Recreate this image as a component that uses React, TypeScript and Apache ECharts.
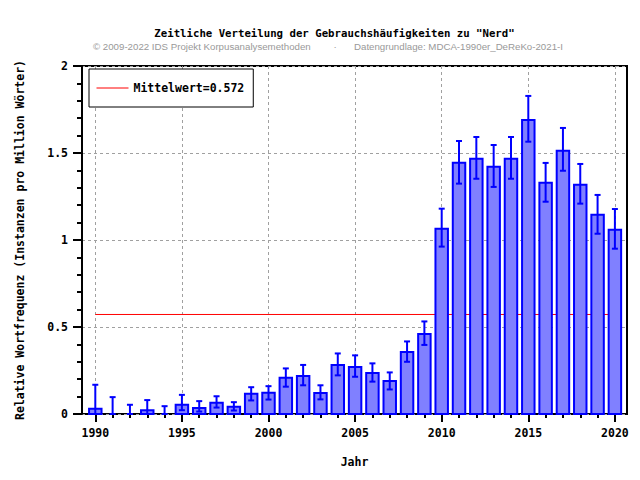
import React, { useEffect, useRef } from "react";
import * as echarts from "echarts";

const years = [1990, 1991, 1992, 1993, 1994, 1995, 1996, 1997, 1998, 1999, 2000, 2001, 2002, 2003, 2004, 2005, 2006, 2007, 2008, 2009, 2010, 2011, 2012, 2013, 2014, 2015, 2016, 2017, 2018, 2019, 2020];
const values = [0.03, 0, 0, 0.022, 0, 0.053, 0.034, 0.064, 0.041, 0.116, 0.122, 0.208, 0.218, 0.121, 0.282, 0.27, 0.236, 0.19, 0.356, 0.46, 1.065, 1.444, 1.467, 1.421, 1.467, 1.69, 1.329, 1.513, 1.318, 1.145, 1.059];
const errLow = [0, 0, 0, 0, 0, 0.022, 0.014, 0.037, 0.02, 0.078, 0.083, 0.157, 0.165, 0.084, 0.222, 0.214, 0.186, 0.141, 0.3, 0.397, 0.962, 1.324, 1.352, 1.305, 1.352, 1.565, 1.22, 1.398, 1.209, 1.036, 0.95];
const errHigh = [0.168, 0.097, 0.053, 0.08, 0.045, 0.11, 0.074, 0.102, 0.068, 0.154, 0.16, 0.262, 0.282, 0.165, 0.348, 0.337, 0.291, 0.239, 0.417, 0.532, 1.18, 1.569, 1.592, 1.546, 1.592, 1.828, 1.443, 1.644, 1.437, 1.259, 1.178];
const meanValue = 0.572;
const meanName = "Mittelwert=0.572";
const titleText = 'Zeitliche Verteilung der Gebrauchshäufigkeiten zu "Nerd"';
const subLeft = "© 2009-2022 IDS Projekt Korpusanalysemethoden";
const subRight = "Datengrundlage: MDCA-1990er_DeReKo-2021-I";
const yName = "Relative Wortfrequenz (Instanzen pro Million Wörter)";
const xName = "Jahr";

const MONO = '"DejaVu Sans Mono", "Liberation Mono", monospace';
const SANS = '9.7px "Liberation Sans", Arial, sans-serif';

export default function App() {
  const ref = useRef<HTMLDivElement>(null);
  useEffect(() => {
    if (!ref.current) return;
    const chart = echarts.init(ref.current, null, { renderer: "svg" });
    const data = years.map((y, i) => [y, values[i], errLow[i], errHigh[i]]);
    const labelStyle = { fontFamily: MONO, fontWeight: "bold" as const, fontSize: 11.5, color: "#000" };
    const option: any = {
      animation: false,
      backgroundColor: "#fff",
      graphic: [
        { type: "text", x: 334.5, y: 33, style: { text: titleText, font: `bold 10.7px ${MONO}`, fill: "#000", textAlign: "center", textVerticalAlign: "middle", align: "center", verticalAlign: "middle" } },
        { type: "text", x: 93, y: 46.5, style: { text: subLeft, font: SANS, fill: "#999", textAlign: "left", textVerticalAlign: "middle", align: "left", verticalAlign: "middle" } },
        { type: "text", x: 335, y: 46.5, style: { text: "·", font: SANS, fill: "#999", textAlign: "center", textVerticalAlign: "middle", align: "center", verticalAlign: "middle" } },
        { type: "text", x: 354, y: 46.5, style: { text: subRight, font: SANS, fill: "#999", textAlign: "left", textVerticalAlign: "middle", align: "left", verticalAlign: "middle" } },
      ],
      legend: {
        data: [meanName],
        left: 89,
        top: 69,
        padding: [13, 9, 13, 7],
        itemWidth: 32,
        itemHeight: 12,
        backgroundColor: "#fff",
        borderColor: "#000",
        borderWidth: 1,
        borderRadius: 0,
        textStyle: labelStyle,
        selectedMode: false,
        itemStyle: { color: "rgba(0,0,0,0)", borderColor: "rgba(0,0,0,0)", borderWidth: 0 },
        lineStyle: { color: "#ff0000", width: 1 },
      },
      grid: [
        { left: 82, right: 13, top: 66, bottom: 66, show: true, borderColor: "#000", borderWidth: 2, backgroundColor: "transparent" },
        { left: 95.3, right: 25.1, top: 66, bottom: 66 },
      ],
      xAxis: [
        {
          gridIndex: 0, type: "value", min: 0, max: 1,
          axisLine: { show: false }, axisTick: { show: false }, axisLabel: { show: false }, splitLine: { show: false },
          name: xName, nameLocation: "middle", nameGap: 42, nameTextStyle: labelStyle,
        },
        {
          gridIndex: 1, type: "value", min: 1990, max: 2020, interval: 5,
          axisLine: { show: false },
          axisTick: { show: true, length: 8, lineStyle: { color: "#000", width: 2 } },
          minorTick: { show: true, splitNumber: 5, length: 4, lineStyle: { color: "#000", width: 2 } },
          axisLabel: { ...labelStyle, margin: 13, formatter: (v: number) => String(v) },
          splitLine: { show: true, lineStyle: { color: "#a0a0a0", width: 1, type: [3, 3] } },
        },
      ],
      yAxis: [
        {
          gridIndex: 0, type: "value", min: 0, max: 2, interval: 0.5,
          axisLine: { show: true, lineStyle: { color: "#000", width: 2 } },
          axisTick: { show: true, length: 9, lineStyle: { color: "#000", width: 2 } },
          minorTick: { show: true, splitNumber: 5, length: 5, lineStyle: { color: "#000", width: 2 } },
          axisLabel: { ...labelStyle, margin: 14 },
          splitLine: { show: true, lineStyle: { color: "#a0a0a0", width: 1, type: [3, 3] } },
          name: yName, nameLocation: "middle", nameGap: 56, nameTextStyle: labelStyle,
        },
        { gridIndex: 1, type: "value", min: 0, max: 2, show: false },
      ],
      series: [
        {
          name: meanName,
          type: "line",
          xAxisIndex: 1,
          yAxisIndex: 1,
          data: [[years[0], meanValue], [years[years.length - 1], meanValue]],
          symbol: "none",
          lineStyle: { color: "#ff0000", width: 1 },
          itemStyle: { color: "#ff0000" },
          z: 1,
        },
        {
          name: "freq",
          type: "custom",
          xAxisIndex: 1,
          yAxisIndex: 1,
          data,
          clip: false,
          z: 3,
          renderItem: (params: any, api: any) => {
            const x = api.value(0);
            const v = api.value(1);
            const lo = api.value(2);
            const hi = api.value(3);
            const base = api.coord([x, 0]);
            const top = api.coord([x, v]);
            const w = api.size([0.72, 0])[0];
            const lp = api.coord([x, lo]);
            const hp = api.coord([x, hi]);
            const cap = 3;
            const blue = "#0000ff";
            const children: any[] = [];
            if (v > 0) {
              children.push({
                type: "rect",
                shape: { x: top[0] - w / 2, y: top[1], width: w, height: base[1] - top[1] },
                style: { fill: "#8080ff", stroke: blue, lineWidth: 2 },
              });
            }
            const ls = { stroke: blue, lineWidth: 2 };
            children.push({ type: "line", shape: { x1: lp[0], y1: lp[1], x2: hp[0], y2: hp[1] }, style: ls });
            children.push({ type: "line", shape: { x1: hp[0] - cap, y1: hp[1], x2: hp[0] + cap, y2: hp[1] }, style: ls });
            children.push({ type: "line", shape: { x1: lp[0] - cap, y1: lp[1], x2: lp[0] + cap, y2: lp[1] }, style: ls });
            return { type: "group", children };
          },
        },
      ],
    };
    chart.setOption(option);
    return () => chart.dispose();
  }, []);
  return <div ref={ref} style={{ position: "absolute", left: 0, top: 0, width: 640, height: 480 }} />;
}
